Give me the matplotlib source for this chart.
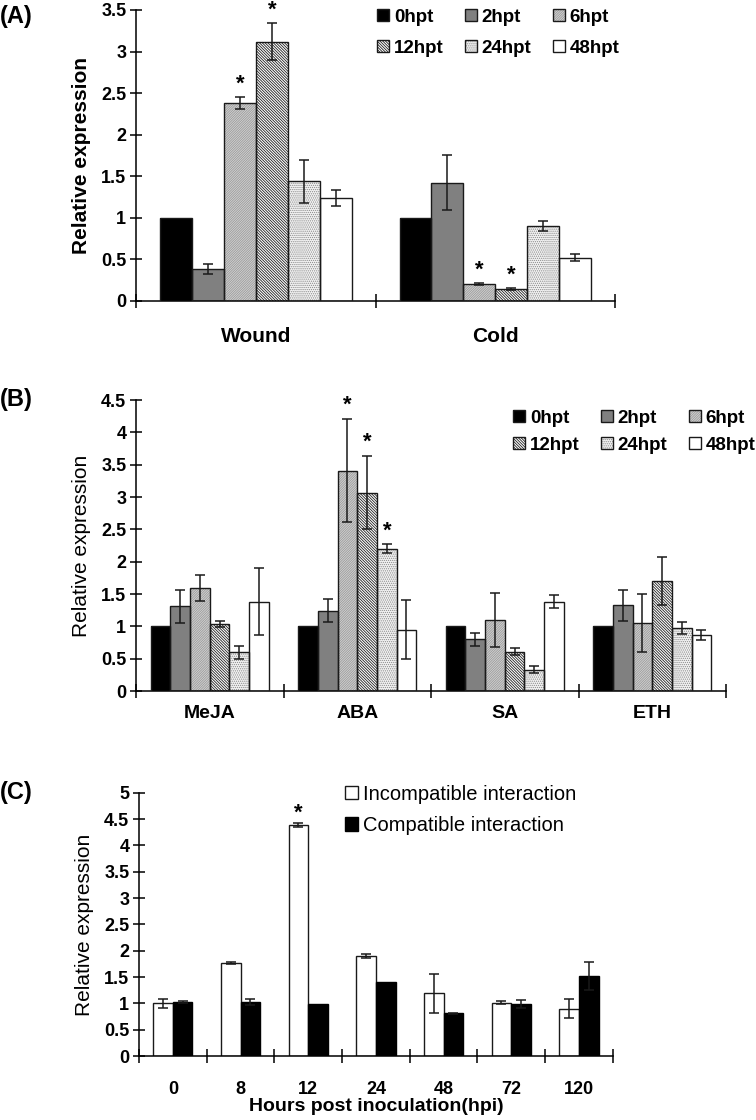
import matplotlib
matplotlib.use('Agg')
import matplotlib.pyplot as plt
from matplotlib.patches import Patch
import numpy as np

plt.rcParams['font.family'] = ['Liberation Sans', 'DejaVu Sans']
plt.rcParams['hatch.linewidth'] = 0.6

time_points = ['0hpt', '2hpt', '6hpt', '12hpt', '24hpt', '48hpt']

# (A) abiotic stress, one row per time point: [Wound, Cold]
stress_a = ['Wound', 'Cold']
expr_a = [[1.00, 1.00],
          [0.38, 1.42],
          [2.38, 0.20],
          [3.12, 0.14],
          [1.44, 0.90],
          [1.24, 0.52]]
err_a = [[0.00, 0.00],
         [0.06, 0.33],
         [0.07, 0.01],
         [0.22, 0.01],
         [0.26, 0.06],
         [0.10, 0.045]]
star_a = [[0, 0], [0, 0], [1, 1], [1, 1], [0, 0], [0, 0]]

# (B) hormones: [MeJA, ABA, SA, ETH]
hormone_b = ['MeJA', 'ABA', 'SA', 'ETH']
expr_b = [[1.00, 1.00, 1.00, 1.00],
          [1.31, 1.24, 0.80, 1.33],
          [1.60, 3.41, 1.10, 1.05],
          [1.04, 3.07, 0.61, 1.70],
          [0.60, 2.20, 0.33, 0.97],
          [1.38, 0.95, 1.38, 0.87]]
err_b = [[0.00, 0.00, 0.00, 0.00],
         [0.26, 0.18, 0.10, 0.24],
         [0.20, 0.80, 0.42, 0.45],
         [0.05, 0.57, 0.05, 0.37],
         [0.10, 0.07, 0.05, 0.09],
         [0.52, 0.46, 0.10, 0.075]]
star_b = [[0, 0, 0, 0], [0, 0, 0, 0], [0, 1, 0, 0],
          [0, 1, 0, 0], [0, 1, 0, 0], [0, 0, 0, 0]]

# (C) pathogen inoculation
hpi = ['0', '8', '12', '24', '48', '72', '120']
incompatible = [1.00, 1.76, 4.38, 1.90, 1.19, 1.01, 0.90]
incompatible_err = [0.09, 0.02, 0.04, 0.04, 0.37, 0.03, 0.18]
compatible = [1.02, 1.02, 0.98, 1.40, 0.81, 0.99, 1.52]
compatible_err = [0.02, 0.06, 0.0, 0.0, 0.01, 0.08, 0.27]
star_c = [0, 0, 1, 0, 0, 0, 0]

# face colour, hatch, hatch colour for each time point
styles = [('black', '', 'black'),
          ('#808080', '', '#808080'),
          ('#d4d4d4', '/' * 14, '#9a9a9a'),
          ('white', '\\' * 12, '#202020'),
          ('#f2f2f2', '.' * 8, '#8a8a8a'),
          ('white', '', 'white')]

err_kw = dict(ecolor='#1a1a1a', elinewidth=1.1, capsize=3.5, capthick=1.1)
leg_kw = dict(handlelength=0.65, handleheight=0.65, handletextpad=0.25,
              borderpad=0, borderaxespad=0, frameon=False)


def draw_bar(ax, x, h, w, style):
    fc, hatch, hc = style
    ax.bar(x, h, w, color=fc, hatch=hatch, edgecolor=hc, linewidth=0, zorder=2)
    ax.bar(x, h, w, fill=False, edgecolor='#1a1a1a', linewidth=1.0, zorder=3)


def style_axes(ax, n, ymax, ystep, tick_fs):
    for s in ['top', 'right']:
        ax.spines[s].set_visible(False)
    for s in ['left', 'bottom']:
        ax.spines[s].set_linewidth(1.1)
    ax.set_xlim(-0.5, n - 0.5)
    ax.set_ylim(0, ymax)
    ax.set_yticks(np.arange(0, ymax + 0.01, ystep))
    ax.set_yticklabels(['%g' % v for v in np.arange(0, ymax + 0.01, ystep)],
                       fontweight='bold', fontsize=tick_fs)
    ax.set_xticks(np.arange(-0.5, n, 1.0))
    ax.set_xticklabels([])
    ax.tick_params(axis='x', which='major', direction='inout', length=10, width=1.1)
    ax.tick_params(axis='y', direction='inout', length=8, width=1.1, pad=3)


def legend_handles():
    hs = []
    for fc, hatch, hc in styles:
        hs.append((Patch(facecolor=fc, hatch=hatch, edgecolor=hc, linewidth=0),
                   Patch(fill=False, edgecolor='#1a1a1a', linewidth=1.0)))
    return hs


def grouped_panel(ax, cats, expr, err, star, label_pad, cat_fs):
    n = len(cats)
    w = 0.8 / len(time_points)
    x = np.arange(n)
    for i in range(len(time_points)):
        xi = x - 0.4 + w * (i + 0.5)
        draw_bar(ax, xi, expr[i], w, styles[i])
        e = np.array(err[i])
        m = e > 0
        ax.errorbar(xi[m], np.array(expr[i])[m], yerr=e[m], fmt='none', zorder=4, **err_kw)
        for j in range(n):
            if star[i][j]:
                ax.annotate('*', (xi[j], expr[i][j] + err[i][j]), xytext=(0, 2),
                            textcoords='offset points', ha='center', va='bottom',
                            fontsize=16, fontweight='bold')
    ax.set_xticks(x, minor=True)
    ax.set_xticklabels(cats, minor=True, fontweight='bold', fontsize=cat_fs)
    ax.tick_params(axis='x', which='minor', length=0, pad=label_pad)


fig = plt.figure(figsize=(7.56, 11.2), dpi=100)
hs = legend_handles()
order = [0, 3, 1, 4, 2, 5]

# ---- (A)
ax_a = fig.add_axes([0.18, 0.7313, 0.6336, 0.2598])
style_axes(ax_a, len(stress_a), 3.5, 0.5, 13)
grouped_panel(ax_a, stress_a, expr_a, err_a, star_a, 19, 15)
ax_a.set_ylabel('Relative expression', fontsize=15, fontweight='bold', labelpad=7)
ax_a.legend([hs[k] for k in order], [time_points[k] for k in order], ncol=3,
            loc='upper left', bbox_to_anchor=(0.503, 1.005),
            prop={'weight': 'bold', 'size': 13.5},
            columnspacing=1.13, labelspacing=0.76, **leg_kw)
fig.text(0.0, 0.985, '(A)', fontsize=17, fontweight='bold', va='center')

# ---- (B)
ax_b = fig.add_axes([0.18, 0.3830, 0.7804, 0.2598])
style_axes(ax_b, len(hormone_b), 4.5, 0.5, 13)
grouped_panel(ax_b, hormone_b, expr_b, err_b, star_b, 10, 14)
ax_b.set_ylabel('Relative expression', fontsize=15, labelpad=7)
ax_b.legend([hs[k] for k in order], [time_points[k] for k in order], ncol=3,
            loc='upper left', bbox_to_anchor=(0.639, 0.967),
            prop={'weight': 'bold', 'size': 13.5},
            columnspacing=1.13, labelspacing=0.54, **leg_kw)
fig.text(0.0, 0.643, '(B)', fontsize=17, fontweight='bold', va='center')

# ---- (C)
ax_c = fig.add_axes([0.1839, 0.0571, 0.6266, 0.2351])
style_axes(ax_c, len(hpi), 5, 0.5, 13)
xc = np.arange(len(hpi))
wc = 0.29
ax_c.bar(xc - wc / 2, incompatible, wc, color='white', edgecolor='#1a1a1a',
         linewidth=1.0, zorder=2, label='Incompatible interaction')
ax_c.bar(xc + wc / 2, compatible, wc, color='black', edgecolor='black',
         linewidth=1.0, zorder=2, label='Compatible interaction')
ie = np.array(incompatible_err)
ce = np.array(compatible_err)
ax_c.errorbar((xc - wc / 2)[ie > 0], np.array(incompatible)[ie > 0], yerr=ie[ie > 0],
              fmt='none', zorder=4, **err_kw)
ax_c.errorbar((xc + wc / 2)[ce > 0], np.array(compatible)[ce > 0], yerr=ce[ce > 0],
              fmt='none', zorder=4, **err_kw)
for j in range(len(hpi)):
    if star_c[j]:
        ax_c.annotate('*', (xc[j] - wc / 2, incompatible[j] + incompatible_err[j]),
                      xytext=(0, 0), textcoords='offset points', ha='center',
                      va='bottom', fontsize=16, fontweight='bold')
ax_c.set_xticks(xc, minor=True)
ax_c.set_xticklabels(hpi, minor=True, fontweight='bold', fontsize=13)
ax_c.tick_params(axis='x', which='minor', length=0, pad=18)
ax_c.set_xlabel('Hours post inoculation(hpi)', fontsize=14, fontweight='bold', labelpad=0)
ax_c.set_ylabel('Relative expression', fontsize=15, labelpad=7)
ax_c.legend(loc='upper left', bbox_to_anchor=(0.435, 1.03), fontsize=14.5,
            labelspacing=0.6, **leg_kw)
fig.text(0.0, 0.292, '(C)', fontsize=17, fontweight='bold', va='center')

fig.savefig('out.png', dpi=100)
